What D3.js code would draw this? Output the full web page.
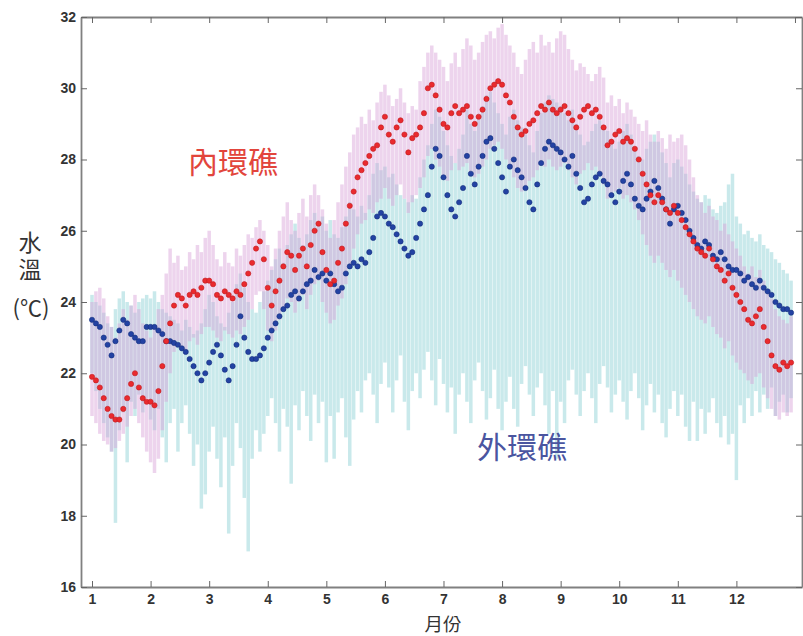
<!DOCTYPE html>
<html>
<head>
<meta charset="utf-8">
<script src="https://cdn.jsdelivr.net/npm/d3@7"></script>
<style>
  body { margin: 0; background: #fff; }
  svg { display: block; }
</style>
</head>
<body>
<svg id="chart" width="803" height="636"></svg>
<script>
// tick labels
const monthTicks = [1, 2, 3, 4, 5, 6, 7, 8, 9, 10, 11, 12]
const tempTicks = [16, 18, 20, 22, 24, 26, 28, 30, 32]

// one sample every 2 days, 15 per month, starting Jan 1
const samplesPerMonth = 15

// 內環礁 daily mean / min / max (°C)
const innerMean = [
  21.9,21.8,21.6,21.3,21.0,20.8,20.7,20.7,21.0,21.3,21.7,22.0,21.6,21.3,21.2,
  21.2,21.1,21.5,22.2,22.9,23.4,23.9,24.2,24.1,23.9,24.2,24.3,24.2,24.4,24.6,
  24.6,24.5,24.2,24.1,24.3,24.2,24.1,24.3,24.2,24.5,24.8,25.1,25.5,25.7,25.2,
  24.4,23.9,24.3,24.6,25.0,25.4,25.3,24.9,25.3,25.5,25.0,25.6,26.0,26.2,25.4,
  24.9,24.5,24.6,25.1,25.5,26.2,26.7,27.1,27.5,27.7,27.9,28.1,28.3,28.4,28.9,
  29.2,28.7,28.5,28.9,29.1,28.7,28.2,28.6,28.7,28.9,29.3,30.0,30.1,29.8,29.4,
  29.0,28.9,29.3,29.5,29.3,29.4,29.5,29.2,29.0,29.2,29.4,29.7,30.0,30.1,30.2,
  30.1,29.8,29.6,29.2,28.9,28.7,28.8,29.0,29.1,29.3,29.5,29.4,29.6,29.4,29.3,
  29.4,29.5,29.3,29.1,28.9,29.2,29.4,29.5,29.3,29.4,29.2,28.9,28.4,28.5,28.7,
  28.8,28.5,28.6,28.5,28.3,28.0,27.6,27.3,27.0,26.8,27.0,26.8,26.6,26.5,26.7,
  26.5,26.3,26.1,25.9,25.7,25.5,25.4,25.3,25.5,25.2,25.0,24.9,24.6,24.8,24.4,
  24.2,24.0,23.8,23.5,23.4,23.6,23.8,23.3,22.9,22.5,22.2,22.1,22.3,22.2,22.3
]
const innerMin = [
  20.8,20.6,20.3,20.1,20.0,19.8,19.9,20.1,20.3,20.5,20.8,21.0,20.6,20.2,19.8,
  19.5,19.2,19.6,20.4,21.2,22.0,22.6,22.9,22.7,22.6,22.9,23.0,22.8,23.1,23.3,
  23.3,23.2,23.0,22.9,23.2,23.1,23.0,23.2,23.1,23.3,23.5,23.8,24.2,24.3,23.8,
  23.2,22.9,23.2,23.5,23.8,24.1,24.0,23.7,24.0,24.2,23.8,24.2,24.5,24.6,24.0,
  23.7,23.4,23.5,23.9,24.1,24.5,25.0,25.5,25.9,26.2,26.3,26.6,26.5,26.8,26.9,
  27.2,26.9,26.7,27.0,27.3,26.9,26.5,26.8,27.0,27.2,27.5,28.1,28.3,28.0,27.8,
  27.5,27.4,27.7,27.9,27.7,27.8,27.9,27.6,27.5,27.6,27.8,28.0,28.3,28.4,28.5,
  28.3,28.0,27.8,27.5,27.2,27.1,27.2,27.4,27.5,27.7,27.9,27.8,28.0,27.8,27.7,
  27.8,27.9,27.7,27.5,27.3,27.6,27.7,27.9,27.7,27.8,27.6,27.3,26.9,27.0,27.1,
  27.2,26.9,27.0,26.8,26.6,26.3,25.9,25.6,25.3,25.1,25.3,25.1,24.9,24.7,24.9,
  24.6,24.4,24.2,24.0,23.8,23.6,23.5,23.4,23.6,23.3,23.1,23.0,22.7,22.9,22.5,
  22.3,22.1,22.0,21.8,21.7,21.9,22.0,21.6,21.3,21.0,20.8,20.7,20.9,20.8,20.9
]
const innerMax = [
  24.0,24.3,24.4,24.1,23.6,23.3,23.0,23.4,23.8,23.5,23.9,24.2,23.8,23.4,23.2,
  23.0,23.3,23.8,24.2,24.8,25.5,25.1,25.3,24.9,25.0,25.4,25.2,25.6,25.4,25.8,
  26.0,25.6,25.2,25.0,25.4,25.1,25.0,25.5,25.3,25.6,25.9,25.8,26.1,26.3,26.0,
  25.6,25.0,25.5,26.0,26.4,26.8,26.3,26.0,26.5,26.9,26.4,27.0,27.3,27.0,26.6,
  26.2,25.8,26.3,26.8,27.3,27.8,28.2,28.7,28.9,29.2,29.0,29.4,29.1,29.6,29.9,
  30.1,29.8,29.5,29.7,30.0,29.6,29.3,29.5,29.4,30.2,30.6,31.0,31.2,31.0,30.8,
  30.6,30.2,30.7,31.0,30.6,31.1,31.4,31.2,30.8,31.0,31.3,31.5,31.6,31.4,31.7,
  31.8,31.5,31.2,31.0,30.6,30.4,30.8,31.1,31.3,31.0,31.5,31.2,31.3,31.0,31.4,
  31.6,31.5,31.1,30.8,30.5,30.7,30.6,30.4,30.2,30.4,30.6,30.3,29.6,29.8,29.5,
  29.7,29.3,29.6,29.4,29.2,29.0,28.8,29.1,28.7,28.5,28.8,28.6,28.3,28.7,28.5,
  28.6,28.7,28.4,28.0,27.5,27.0,26.8,26.5,26.7,26.4,26.3,26.0,26.2,25.9,25.7,
  25.5,25.3,25.0,24.8,25.0,24.7,24.9,24.6,24.3,24.1,23.8,23.6,23.5,23.4,23.6
]

// 外環礁 daily mean / min / max (°C)
const outerMean = [
  23.5,23.4,23.3,23.0,22.8,22.5,22.9,23.2,23.5,23.4,23.1,23.0,22.9,22.9,23.3,
  23.3,23.3,23.2,23.1,22.9,22.9,22.85,22.8,22.7,22.6,22.4,22.2,22.0,21.8,22.0,
  22.3,22.6,22.8,22.5,22.1,21.8,22.2,22.8,23.6,23.0,22.6,22.4,22.4,22.5,22.7,
  23.0,23.2,23.4,23.6,23.8,23.9,24.2,24.3,24.1,24.3,24.5,24.6,24.9,24.7,24.8,
  24.6,24.8,24.5,24.3,24.4,24.8,25.0,25.1,25.0,25.2,25.1,25.4,25.8,26.4,26.5,
  26.4,26.2,26.1,25.9,25.7,25.5,25.3,25.4,25.8,26.2,26.6,27.0,27.8,28.3,28.1,
  27.5,27.0,26.6,26.4,26.8,27.2,28.1,27.6,27.3,27.8,28.1,28.5,28.6,28.3,27.9,
  27.5,27.1,27.8,28.0,27.7,27.5,27.2,26.8,26.6,27.3,27.9,28.3,28.5,28.4,28.3,
  28.2,28.0,27.8,28.1,27.6,27.2,26.8,26.9,27.3,27.5,27.6,27.4,27.3,27.0,26.8,
  27.1,27.4,27.6,27.3,26.9,26.7,26.6,26.9,27.1,27.4,27.2,26.9,26.6,26.2,26.6,
  26.7,26.5,26.3,26.0,25.8,25.6,25.5,25.7,25.6,25.3,25.2,25.4,25.2,25.0,24.9,
  24.9,24.8,24.6,24.7,24.5,24.4,24.6,24.4,24.3,24.2,24.0,23.9,23.8,23.8,23.7
]
const outerMin = [
  22.0,21.5,21.0,20.6,20.2,19.8,17.8,20.4,20.9,19.5,21.2,20.8,21.4,20.9,21.3,
  20.7,20.4,21.0,20.2,19.5,20.6,21.0,19.8,20.6,21.1,20.3,19.4,20.0,18.2,18.6,
  19.8,20.5,19.6,18.8,20.2,17.5,19.4,20.6,19.9,18.5,17.0,19.6,20.4,19.8,20.3,
  20.8,21.3,20.6,19.8,21.0,20.5,18.9,21.1,20.4,21.5,20.8,20.1,21.4,20.6,21.2,
  19.5,20.8,19.6,20.9,21.3,20.2,19.4,20.7,21.5,20.9,21.8,22.0,21.4,20.6,21.7,
  22.3,21.6,20.9,21.8,22.5,21.2,20.4,21.5,22.0,21.3,22.1,22.6,21.8,21.1,22.4,
  21.7,20.9,21.6,20.3,21.4,22.0,21.2,20.6,21.8,22.3,21.5,20.7,21.3,22.1,21.0,
  20.4,21.2,21.9,21.0,20.5,21.7,22.2,21.4,20.8,21.6,22.0,21.1,20.3,21.5,19.6,
  21.2,20.6,21.8,22.1,21.4,20.8,21.5,22.0,21.3,20.6,21.7,22.2,21.6,20.9,21.4,
  21.8,21.2,20.7,21.5,22.0,21.3,20.4,21.1,21.7,20.9,21.4,20.6,20.2,21.0,21.5,
  20.8,21.4,20.5,20.1,21.2,20.1,21.0,20.3,20.9,21.3,20.6,20.2,20.8,20.0,20.3,
  19.0,21.1,20.6,21.3,20.8,21.5,20.9,21.4,21.0,21.6,20.8,21.2,21.4,20.9,21.3
]
const outerMax = [
  24.2,24.0,23.9,23.7,23.4,23.3,23.8,24.1,24.3,24.0,23.9,23.7,24.0,24.1,24.2,
  24.1,24.3,24.0,23.8,23.7,23.6,23.5,23.4,23.2,23.5,23.3,23.1,23.2,23.4,23.8,
  24.2,24.0,23.6,23.4,23.3,23.7,24.0,24.5,24.8,24.4,24.0,23.8,23.7,24.0,24.3,
  24.6,24.9,25.2,25.5,25.1,25.6,25.9,26.2,25.8,25.6,25.9,26.3,26.5,26.2,26.4,
  26.0,26.3,25.9,25.8,26.1,26.4,26.8,26.6,26.4,26.7,26.5,27.0,27.6,27.9,27.7,
  27.8,27.5,27.6,27.3,27.0,26.9,26.8,27.0,26.9,27.5,28.0,28.4,29.0,29.4,29.2,
  28.8,28.4,28.1,27.9,28.3,28.7,29.4,29.0,28.8,29.2,29.5,29.8,29.9,29.6,29.3,
  29.0,28.7,29.2,29.4,29.1,28.9,28.7,28.4,28.2,28.8,29.3,29.6,29.8,29.7,29.6,
  29.5,29.3,29.1,29.4,29.0,28.7,28.4,28.5,28.8,29.0,29.1,28.9,28.8,28.5,28.3,
  28.5,28.8,29.0,28.7,28.3,28.1,28.0,28.3,28.5,28.7,28.5,28.2,27.9,27.5,27.9,
  28.0,27.8,27.6,27.3,27.1,26.9,26.8,27.0,26.9,26.6,26.5,26.7,26.8,27.3,27.6,
  26.4,26.2,25.9,26.0,25.8,25.7,25.9,25.6,25.5,25.4,25.2,25.1,24.9,24.8,24.6
]

const rows = innerMean.map((v, i) => ({
  m: 1 + i / samplesPerMonth,
  inMean: v, inLo: innerMin[i], inHi: innerMax[i],
  outMean: outerMean[i], outLo: outerMin[i], outHi: outerMax[i]
}))

const width = 803
const height = 636
const margin = { left: 81, right: 1, top: 17, bottom: 49 }

const svg = d3.select("#chart")

const x = d3.scaleLinear()
  .domain([0.812, 13.12])
  .range([margin.left, width - margin.right])

const y = d3.scaleLinear()
  .domain([16, 32])
  .range([height - margin.bottom, margin.top])

const bw = 3.5

// range bands: outer (cyan) under inner (pink)
svg.append("g")
  .selectAll("rect")
  .data(rows)
  .join("rect")
  .attr("x", d => x(d.m) - bw / 2)
  .attr("y", d => y(d.outHi))
  .attr("width", bw)
  .attr("height", d => y(d.outLo) - y(d.outHi))
  .attr("fill", "#bfe5e8")
  .attr("fill-opacity", 0.85)

svg.append("g")
  .selectAll("rect")
  .data(rows)
  .join("rect")
  .attr("x", d => x(d.m) - bw / 2)
  .attr("y", d => y(d.inHi))
  .attr("width", bw)
  .attr("height", d => y(d.inLo) - y(d.inHi))
  .attr("fill", "#d8a0d8")
  .attr("fill-opacity", 0.45)

// daily means
svg.append("g")
  .selectAll("circle")
  .data(rows)
  .join("circle")
  .attr("cx", d => x(d.m))
  .attr("cy", d => y(d.outMean))
  .attr("r", 2.6)
  .attr("fill", "#2342a3")
  .attr("stroke", "#16307e")
  .attr("stroke-width", 0.6)

svg.append("g")
  .selectAll("circle")
  .data(rows)
  .join("circle")
  .attr("cx", d => x(d.m))
  .attr("cy", d => y(d.inMean))
  .attr("r", 2.6)
  .attr("fill", "#ea2a2e")
  .attr("stroke", "#c01c22")
  .attr("stroke-width", 0.6)

// axes (MATLAB style box, ticks pointing in)
const styleAxis = g => {
  g.select(".domain").attr("stroke", "#808080").attr("stroke-width", 1.8)
  g.selectAll(".tick line").attr("stroke", "#666").attr("stroke-width", 1)
  g.selectAll(".tick text")
    .attr("fill", "#333")
    .attr("font-family", "'Liberation Sans', Arial, sans-serif")
    .attr("font-weight", "bold")
    .attr("font-size", 14)
}

svg.append("g")
  .attr("transform", `translate(0,${height - margin.bottom})`)
  .call(d3.axisBottom(x).tickValues(monthTicks).tickSizeInner(-6).tickSizeOuter(0).tickPadding(7))
  .call(styleAxis)

svg.append("g")
  .attr("transform", `translate(0,${margin.top})`)
  .call(d3.axisTop(x).tickValues(monthTicks.concat([13])).tickSizeInner(-6).tickSizeOuter(0).tickFormat(""))
  .call(styleAxis)

svg.append("g")
  .attr("transform", `translate(${margin.left},0)`)
  .call(d3.axisLeft(y).tickValues(tempTicks).tickSizeInner(-6).tickSizeOuter(0).tickPadding(5))
  .call(styleAxis)

svg.append("g")
  .attr("transform", `translate(${width - margin.right},0)`)
  .call(d3.axisRight(y).tickValues(tempTicks).tickSizeInner(-6).tickSizeOuter(0).tickFormat(""))
  .call(styleAxis)

// labels
const cjk = "'Noto Sans CJK TC', 'Noto Sans CJK SC', sans-serif"

svg.append("text")
  .attr("x", 188).attr("y", 173)
  .attr("font-family", cjk).attr("font-size", 30)
  .attr("fill", "#e2453c")
  .text("內環礁")

svg.append("text")
  .attr("x", 477).attr("y", 458)
  .attr("font-family", cjk).attr("font-size", 30)
  .attr("fill", "#4a55a0")
  .text("外環礁")

// y label: 水溫 stacked vertically, unit below
svg.append("text")
  .attr("x", 30).attr("y", 231)
  .attr("writing-mode", "vertical-rl")
  .attr("letter-spacing", 4)
  .attr("font-family", cjk).attr("font-size", 23)
  .attr("fill", "#333")
  .text("水溫")

svg.append("text")
  .attr("x", 31).attr("y", 316)
  .attr("text-anchor", "middle")
  .attr("font-family", cjk).attr("font-size", 22)
  .attr("fill", "#333")
  .text("(℃)")

svg.append("text")
  .attr("x", 443).attr("y", 630.5)
  .attr("text-anchor", "middle")
  .attr("font-family", cjk).attr("font-size", 18.5)
  .attr("fill", "#333")
  .text("月份")
</script>
</body>
</html>
